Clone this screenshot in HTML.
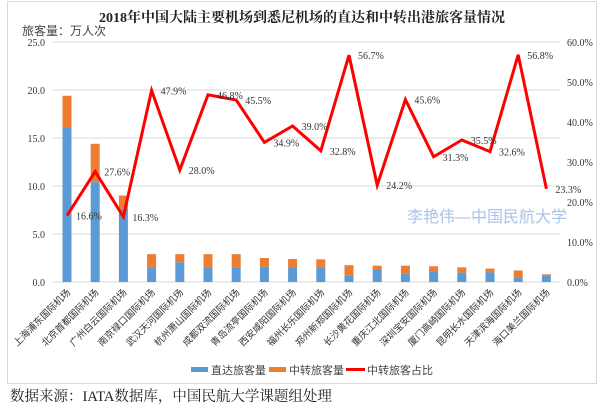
<!DOCTYPE html>
<html><head><meta charset="utf-8"><style>
body{margin:0;background:#fff;width:600px;height:412px;overflow:hidden}
svg text{font-family:"Liberation Serif","Noto Serif CJK SC",serif}
svg text.s, svg .s text{font-family:"Liberation Sans","Noto Sans CJK SC",sans-serif}
</style></head><body>
<svg width="600" height="412" xmlns="http://www.w3.org/2000/svg">
<rect x="7.5" y="1.5" width="589" height="382" fill="#fff" stroke="#d9d9d9"/>
<text x="302" y="22" text-anchor="middle" font-size="14" font-weight="bold" fill="#222">2018年中国大陆主要机场到悉尼机场的直达和中转出港旅客量情况</text>
<text x="22" y="35" font-size="12" fill="#444" class="s">旅客量：万人次</text>
<g stroke="#d9d9d9" stroke-width="1">
<line x1="52" y1="42" x2="560" y2="42"/><line x1="52" y1="90" x2="560" y2="90"/><line x1="52" y1="138" x2="560" y2="138"/><line x1="52" y1="186" x2="560" y2="186"/><line x1="52" y1="234" x2="560" y2="234"/><line x1="52" y1="282" x2="560" y2="282"/>
</g>
<g font-size="10" fill="#333" text-anchor="end">
<text x="45" y="46">25.0</text><text x="45" y="94">20.0</text><text x="45" y="142">15.0</text><text x="45" y="190">10.0</text><text x="45" y="238">5.0</text><text x="45" y="286">0.0</text>
</g>
<g font-size="10" fill="#333">
<text x="567" y="46">60.0%</text><text x="567" y="86">50.0%</text><text x="567" y="126">40.0%</text><text x="567" y="166">30.0%</text><text x="567" y="206">20.0%</text><text x="567" y="246">10.0%</text><text x="567" y="286">0.0%</text>
</g>
<text x="407" y="222" font-size="16" fill="#a9c4e8" class="s">李艳伟—中国民航大学</text>
<g id="bars"></g>
<g id="labels" font-size="9.5" fill="#333" class="s"></g>
<polyline id="line" fill="none" stroke="#ff0000" stroke-width="3" stroke-linejoin="miter"/>
<g id="pl" font-size="10" fill="#333"></g>
<rect x="191" y="367" width="17" height="5" fill="#5b9bd5"/>
<text x="211" y="374" font-size="11" fill="#444" class="s">直达旅客量</text>
<rect x="269" y="367" width="17" height="5" fill="#ed7d31"/>
<text x="289" y="374" font-size="11" fill="#444" class="s">中转旅客量</text>
<line x1="346" y1="369.5" x2="365" y2="369.5" stroke="#ff0000" stroke-width="3"/>
<text x="367" y="374" font-size="11" fill="#444" class="s">中转旅客占比</text>
<text x="10" y="401" font-size="14.5" fill="#222">数据来源：IATA数据库，中国民航大学课题组处理</text>
<script>
var names=["上海浦东国际机场","北京首都国际机场","广州白云国际机场","南京禄口国际机场","武汉天河国际机场","杭州萧山国际机场","成都双流国际机场","青岛流亭国际机场","西安咸阳国际机场","福州长乐国际机场","郑州新郑国际机场","长沙黄花国际机场","重庆江北国际机场","深圳宝安国际机场","厦门高崎国际机场","昆明长水国际机场","天津滨海国际机场","海口美兰国际机场"];
var tot=[19.4,14.4,9.0,2.9,2.9,2.9,2.9,2.5,2.4,2.36,1.75,1.7,1.7,1.64,1.53,1.4,1.2,0.8];
var dir=[16.1,10.4,7.6,1.5,2.05,1.5,1.5,1.6,1.5,1.53,0.7,1.25,0.87,1.1,0.97,1.0,0.5,0.62];
var pct=[16.6,27.6,16.3,47.9,28.0,46.8,45.5,34.9,39.0,32.8,56.7,24.2,45.6,31.3,35.5,32.6,56.8,23.3];
var ns="http://www.w3.org/2000/svg",b=document.getElementById("bars"),L=document.getElementById("labels"),P=document.getElementById("pl"),pts=[];
function el(t,a,p,txt){var e=document.createElementNS(ns,t);for(var k in a)e.setAttribute(k,a[k]);if(txt)e.textContent=txt;p.appendChild(e);}
for(var i=0;i<18;i++){var cx=67+28.2*i,yt=282-tot[i]*9.6,yd=282-dir[i]*9.6;
el("rect",{x:cx-4.5,y:yt,width:9,height:yd-yt,fill:"#ed7d31"},b);
el("rect",{x:cx-4.5,y:yd,width:9,height:282-yd,fill:"#5b9bd5"},b);
el("text",{x:cx+4,y:293,"text-anchor":"end","class":"s",transform:"rotate(-45 "+(cx+4)+" 293)"},L,names[i]);
var py=282-pct[i]*4;pts.push(cx+","+py);
el("text",{x:cx+9,y:py+4},P,pct[i].toFixed(1)+"%");}
document.getElementById("line").setAttribute("points",pts.join(" "));
</script>
</svg>
</body></html>
